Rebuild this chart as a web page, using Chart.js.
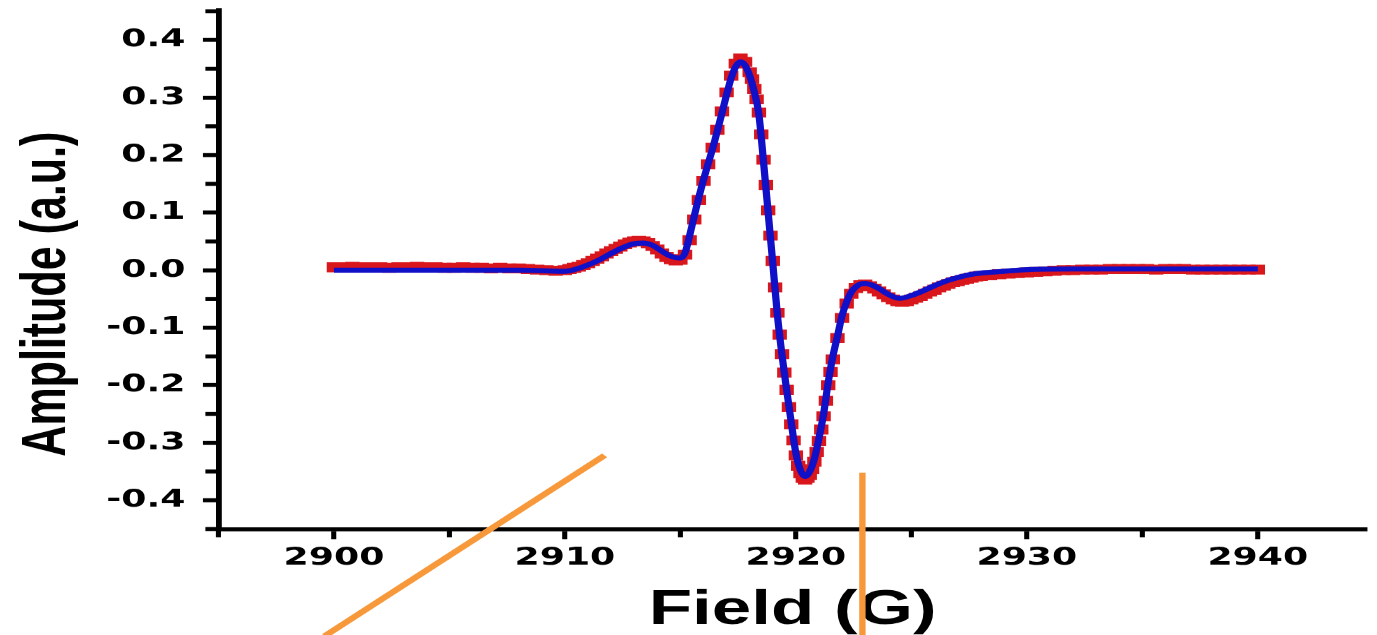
<!DOCTYPE html>
<html>
<head>
<meta charset="utf-8">
<title>EPR spectrum</title>
<script src="https://cdn.jsdelivr.net/npm/chart.js@4.4.1/dist/chart.umd.min.js"></script>
<style>
  html, body { margin: 0; padding: 0; background: #fff; overflow: hidden; }
  #epr { display: block; }
</style>
</head>
<body>
<!-- drawn on a narrower logical canvas, then widened to the page width -->
<canvas id="epr" width="950" height="635" style="width:1377px;height:635px"></canvas>
<script>
// tick positions
const fieldTicks = [2900, 2910, 2920, 2930, 2940];
const fieldMinor = [2895, 2905, 2915, 2925, 2935];
const ampTicks = [-0.4, -0.3, -0.2, -0.1, 0.0, 0.1, 0.2, 0.3, 0.4];
const ampMinor = [-0.45, -0.35, -0.25, -0.15, -0.05, 0.05, 0.15, 0.25, 0.35, 0.45];

// measured spectrum (red squares)
const expField = [
  2900.0, 2900.4, 2900.8, 2901.2, 2901.6, 2902.0, 2902.4, 2902.8, 2903.2, 2903.6,
  2904.0, 2904.4, 2904.8, 2905.2, 2905.6, 2906.0, 2906.4, 2906.8, 2907.2, 2907.6,
  2908.0, 2908.4, 2908.8, 2909.2, 2909.6,
  2910.0, 2910.2, 2910.4, 2910.6, 2910.8, 2911.0, 2911.2, 2911.4, 2911.6, 2911.8,
  2912.0, 2912.2, 2912.4, 2912.6, 2912.8, 2913.0, 2913.2, 2913.4, 2913.6, 2913.8,
  2914.0, 2914.2, 2914.4, 2914.6, 2914.8, 2915.0, 2915.2, 2915.4, 2915.6, 2915.8,
  2916.0, 2916.2, 2916.4, 2916.6, 2916.8, 2917.0, 2917.2, 2917.4, 2917.6, 2917.8,
  2918.0, 2918.1, 2918.2, 2918.3, 2918.4, 2918.5, 2918.6, 2918.7, 2918.8, 2918.9,
  2919.0, 2919.1, 2919.2, 2919.3, 2919.4, 2919.5, 2919.6, 2919.7, 2919.8, 2919.9,
  2920.0, 2920.1, 2920.2, 2920.3, 2920.4, 2920.5, 2920.6, 2920.7, 2920.8, 2920.9,
  2921.0, 2921.1, 2921.2, 2921.3, 2921.4, 2921.5, 2921.6, 2921.8,
  2922.0, 2922.2, 2922.4, 2922.6, 2922.8, 2923.0, 2923.2, 2923.4, 2923.6, 2923.8,
  2924.0, 2924.2, 2924.4, 2924.6, 2924.8, 2925.0, 2925.2, 2925.4, 2925.6, 2925.8,
  2926.0, 2926.2, 2926.4, 2926.6, 2926.8, 2927.0, 2927.2, 2927.4, 2927.6, 2927.8,
  2928.0,
  2928.4, 2928.8, 2929.2, 2929.6, 2930.0, 2930.4, 2930.8, 2931.2, 2931.6, 2932.0,
  2932.4, 2932.8, 2933.2, 2933.6, 2934.0, 2934.4, 2934.8, 2935.2, 2935.6, 2936.0,
  2936.4, 2936.8, 2937.2, 2937.6, 2938.0, 2938.4, 2938.8, 2939.2, 2939.6, 2940.0
];
const expAmp = [
  0.005, 0.005, 0.006, 0.005, 0.005, 0.005, 0.004, 0.005, 0.005, 0.006,
  0.005, 0.005, 0.004, 0.004, 0.005, 0.004, 0.004, 0.003, 0.004, 0.003,
  0.003, 0.002, 0.001, 0.000, -0.001,
  0.000, 0.002, 0.004, 0.006, 0.009, 0.012, 0.016, 0.020, 0.024, 0.029,
  0.033, 0.037, 0.041, 0.045, 0.048, 0.050, 0.051, 0.050, 0.047, 0.042,
  0.036, 0.029, 0.023, 0.019, 0.017, 0.018, 0.027, 0.052, 0.088, 0.122,
  0.155, 0.184, 0.213, 0.244, 0.276, 0.309, 0.338, 0.359, 0.368, 0.362,
  0.344, 0.332, 0.315, 0.297, 0.274, 0.236, 0.192, 0.148, 0.104, 0.060,
  0.016, -0.030, -0.074, -0.112, -0.146, -0.178, -0.208, -0.238, -0.268, -0.296,
  -0.322, -0.340, -0.353, -0.361, -0.364, -0.361, -0.356, -0.346, -0.333, -0.316,
  -0.297, -0.277, -0.254, -0.227, -0.200, -0.177, -0.155, -0.118,
  -0.083, -0.058, -0.041, -0.031, -0.026, -0.025, -0.028, -0.032, -0.037, -0.042,
  -0.047, -0.051, -0.054, -0.055, -0.054, -0.051, -0.048, -0.045, -0.041, -0.037,
  -0.034, -0.030, -0.027, -0.024, -0.021, -0.019, -0.017, -0.015, -0.013, -0.011,
  -0.010,
  -0.009, -0.007, -0.006, -0.005, -0.004, -0.003, -0.002, -0.001, 0.000, 0.000,
  0.001, 0.001, 0.001, 0.002, 0.002, 0.002, 0.002, 0.002, 0.001, 0.002,
  0.002, 0.002, 0.001, 0.001, 0.001, 0.001, 0.001, 0.001, 0.001, 0.001
];

// simulated spectrum (blue line)
const fitField = [
  2900, 2902, 2904, 2906, 2908, 2909, 2910, 2910.5, 2911, 2911.5,
  2912, 2912.5, 2913, 2913.4, 2913.8, 2914.2, 2914.6, 2915.0, 2915.2, 2915.4,
  2915.6, 2915.8, 2916.0, 2916.2, 2916.4, 2916.6, 2916.8, 2917.0, 2917.2, 2917.4,
  2917.6, 2917.8, 2918.0, 2918.2, 2918.4, 2918.6, 2918.8, 2919.0, 2919.2, 2919.4,
  2919.6, 2919.8, 2920.0, 2920.2, 2920.4, 2920.6, 2920.8, 2921.0, 2921.2, 2921.4,
  2921.6, 2921.8, 2922.0, 2922.2, 2922.4, 2922.6, 2922.8, 2923.0, 2923.3, 2923.6,
  2924.0, 2924.5, 2925.0, 2925.5, 2926.0, 2926.5, 2927.0, 2927.5, 2928.0, 2929,
  2930, 2932, 2934, 2936, 2938, 2940
];
const fitAmp = [
  0.000, 0.000, 0.000, 0.000, 0.000, -0.001, -0.002, 0.002, 0.009, 0.018,
  0.029, 0.039, 0.046, 0.047, 0.043, 0.033, 0.024, 0.021, 0.030, 0.060,
  0.094, 0.127, 0.157, 0.185, 0.212, 0.242, 0.273, 0.305, 0.334, 0.354,
  0.362, 0.356, 0.338, 0.310, 0.270, 0.188, 0.100, 0.012, -0.078, -0.148,
  -0.208, -0.265, -0.318, -0.348, -0.359, -0.350, -0.328, -0.292, -0.250, -0.195,
  -0.150, -0.115, -0.079, -0.055, -0.038, -0.029, -0.024, -0.023, -0.026, -0.032,
  -0.042, -0.049, -0.044, -0.036, -0.027, -0.019, -0.013, -0.008, -0.005, -0.002,
  0.001, 0.002, 0.002, 0.002, 0.002, 0.002
];

// orange pointer strokes, in field / amplitude units
const slashField = [2899.6, 2911.72];
const slashAmp = [-0.636, -0.322];
const barField = [2922.88, 2922.88];
const barAmp = [-0.352, -0.636];

const RED = '#d8161c';
const BLUE = '#1010c8';
const ORANGE = '#f7993b';
const STRETCH = 1377 / 950;

const tickFont = { family: '"DejaVu Sans", sans-serif', size: 25, weight: 'bold' };

// minor ticks, y title and the orange strokes
const extras = {
  id: 'extras',
  afterDraw(chart) {
    const { ctx, scales: { x, y } } = chart;
    ctx.save();
    ctx.strokeStyle = '#000';
    ctx.lineWidth = 3.5;
    fieldMinor.forEach(v => {
      const px = x.getPixelForValue(v);
      ctx.beginPath();
      ctx.moveTo(px, x.top);
      ctx.lineTo(px, x.top + 8);
      ctx.stroke();
    });
    ctx.lineWidth = 4;
    ampMinor.forEach(v => {
      const py = y.getPixelForValue(v);
      ctx.beginPath();
      ctx.moveTo(y.right, py);
      ctx.lineTo(y.right - 9, py);
      ctx.stroke();
    });

    ctx.fillStyle = '#000';
    ctx.font = 'bold 43px "Liberation Sans", Arial, sans-serif';
    ctx.textAlign = 'center';
    ctx.textBaseline = 'alphabetic';
    ctx.translate(44.8, 294);
    ctx.rotate(-Math.PI / 2);
    ctx.fillText('Amplitude (a.u.)', 0, 0);
    ctx.restore();

    ctx.save();
    ctx.strokeStyle = ORANGE;
    [[slashField, slashAmp, 5.3], [barField, barAmp, 4.4]].forEach(([fs, as, w]) => {
      ctx.lineWidth = w;
      ctx.beginPath();
      fs.forEach((f, i) => {
        const px = x.getPixelForValue(f);
        const py = y.getPixelForValue(as[i]);
        if (i === 0) ctx.moveTo(px, py); else ctx.lineTo(px, py);
      });
      ctx.stroke();
    });
    ctx.restore();
  }
};

const ctx = document.getElementById('epr').getContext('2d');
new Chart(ctx, {
  type: 'line',
  data: {
    datasets: [
      {
        label: 'Simulation',
        data: fitField.map((f, i) => ({ x: f, y: fitAmp[i] })),
        borderColor: BLUE,
        borderWidth: 5,
        pointRadius: 0,
        cubicInterpolationMode: 'monotone',
        fill: false
      },
      {
        label: 'Experiment',
        data: expField.map((f, i) => ({ x: f, y: expAmp[i] })),
        showLine: false,
        pointStyle: 'rect',
        pointRadius: 7,
        pointBorderWidth: 0,
        pointBackgroundColor: RED,
        pointBorderColor: RED
      }
    ]
  },
  options: {
    responsive: false,
    devicePixelRatio: STRETCH,
    animation: false,
    layout: { padding: { top: 10, right: 0, bottom: 0, left: 0 } },
    plugins: {
      legend: { display: false },
      tooltip: { enabled: false }
    },
    scales: {
      x: {
        type: 'linear',
        min: 2895,
        max: 2944.72,
        afterBuildTicks(s) { s.ticks = fieldTicks.map(v => ({ value: v })); },
        afterFit(s) {
          s.height = 106;
          s.paddingLeft = 0;
          s.paddingRight = 0;
        },
        grid: {
          drawOnChartArea: false,
          tickLength: 10,
          tickWidth: 3.5,
          tickColor: '#000'
        },
        border: { display: true, color: '#000', width: 4 },
        ticks: {
          color: '#000',
          font: tickFont,
          padding: 4,
          maxRotation: 0,
          autoSkip: false,
          callback: v => String(v)
        },
        title: {
          display: true,
          text: 'Field (G)',
          color: '#000',
          font: { family: '"Liberation Sans", Arial, sans-serif', size: 49, weight: 'bold', lineHeight: 1 },
          padding: { top: 0, bottom: 0 }
        }
      },
      y: {
        min: -0.4504,
        max: 0.4522,
        afterBuildTicks(s) { s.ticks = ampTicks.map(v => ({ value: v })); },
        afterFit(s) {
          s.width = 150.7;
          s.paddingTop = 0;
          s.paddingBottom = 0;
        },
        grid: {
          drawOnChartArea: false,
          tickLength: 10.7,
          tickWidth: 4,
          tickColor: '#000'
        },
        border: { display: true, color: '#000', width: 4 },
        ticks: {
          color: '#000',
          font: tickFont,
          padding: 12,
          autoSkip: false,
          callback: v => v.toFixed(1)
        }
      }
    }
  },
  plugins: [extras]
});
</script>
</body>
</html>
